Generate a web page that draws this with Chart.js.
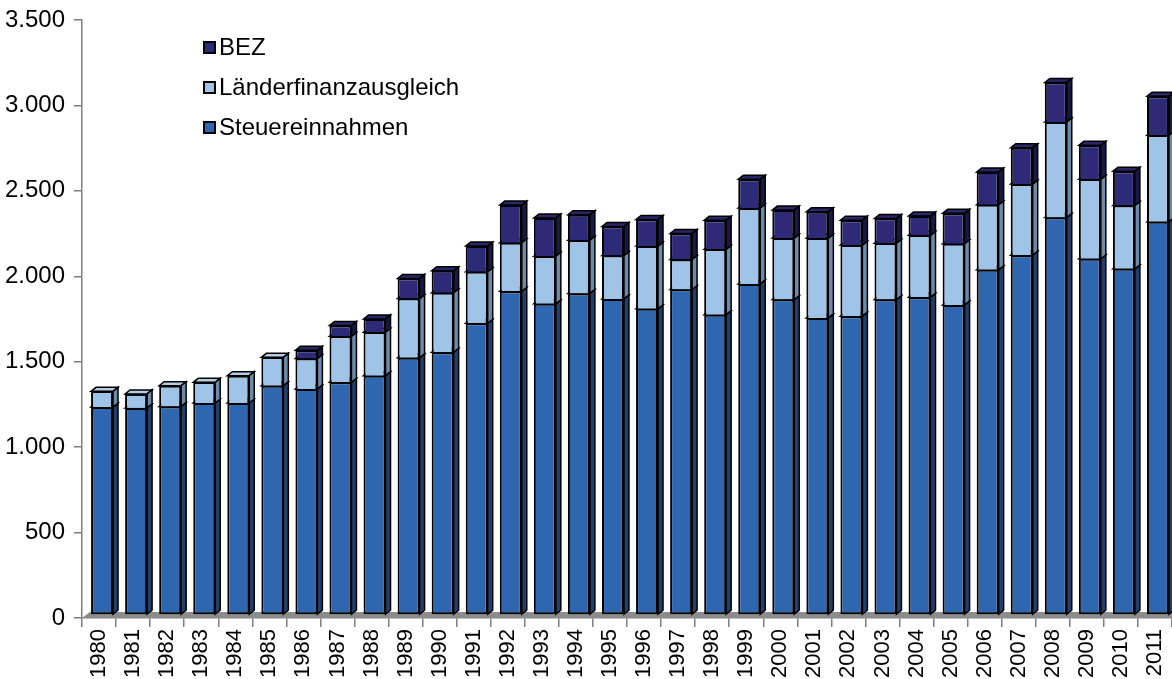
<!DOCTYPE html>
<html><head><meta charset="utf-8">
<script src="https://cdn.jsdelivr.net/npm/chart.js@4.4.1/dist/chart.umd.min.js"></script>
<style>
html,body{margin:0;padding:0;background:#fff;}
#wrap{position:relative;width:1172px;height:679px;overflow:hidden;}
#legend{position:absolute;left:203px;top:27px;font-family:"Liberation Sans",Arial,sans-serif;font-size:24px;color:#000;}
.li{display:flex;align-items:center;height:40px;white-space:nowrap;}
.sw{width:9px;height:9px;border:2px solid #000;margin-right:3px;flex:none;}
</style></head><body>
<div id="wrap"><canvas id="c" width="1172" height="679"></canvas><div id="legend"></div></div>
<script>
const years = ['1980','1981','1982','1983','1984','1985','1986','1987','1988','1989','1990','1991','1992','1993','1994','1995','1996','1997','1998','1999','2000','2001','2002','2003','2004','2005','2006','2007','2008','2009','2010','2011'];
const steuereinnahmen = [1217,1212,1221,1241,1241,1342,1323,1362,1401,1505,1538,1707,1895,1821,1882,1850,1792,1905,1758,1938,1846,1739,1749,1846,1860,1815,2020,2106,2327,2085,2026,2302];
const laenderfinanzausgleich = [92,82,121,121,160,166,178,269,254,347,348,302,284,279,312,254,367,176,382,444,360,467,416,330,362,358,381,416,559,465,371,506];
const bez = [0,0,0,0,0,0,48,63,78,118,129,150,220,223,149,170,156,152,170,168,164,154,146,145,113,178,192,213,231,199,200,228];
const yMin = 0, yMax = 3500, yStep = 500;

const FONT = '"Liberation Sans", Arial, sans-serif';
const DX = 5, DY = 4, OX = 3, OY = -3;

function fmt(v){
  if (v >= 1000) return Math.floor(v/1000) + '.' + String(v % 1000).padStart(3,'0');
  return String(v);
}

function poly(ctx, pts, fill){
  ctx.beginPath();
  ctx.moveTo(pts[0][0], pts[0][1]);
  for (let k = 1; k < pts.length; k++) ctx.lineTo(pts[k][0], pts[k][1]);
  ctx.closePath();
  ctx.fillStyle = fill;
  ctx.fill();
  ctx.lineWidth = 1.5;
  ctx.strokeStyle = '#000';
  ctx.lineJoin = 'miter';
  ctx.stroke();
}

const depthPlugin = {
  id: 'depth',
  beforeDatasetsDraw(chart){
    const ctx = chart.ctx, a = chart.chartArea;
    ctx.save();
    ctx.fillStyle = '#8c8c8c';
    ctx.beginPath();
    ctx.moveTo(a.left, a.bottom);
    ctx.lineTo(a.right + 2, a.bottom);
    ctx.lineTo(a.right + 2, a.bottom - 6);
    ctx.lineTo(a.left + 8, a.bottom - 6);
    ctx.closePath();
    ctx.fill();
    ctx.restore();

    ctx.save();
    ctx.translate(OX, OY);
    const n = chart.data.labels.length;
    for (let i = 0; i < n; i++){
      chart.data.datasets.forEach((ds, d) => {
        const v = ds.data[i];
        if (!v) return;
        const el = chart.getDatasetMeta(d).data[i];
        const p = el.getProps(['x','y','base','width'], true);
        const l = p.x - p.width/2, r = p.x + p.width/2;
        const t = Math.min(p.y, p.base), b = Math.max(p.y, p.base);
        poly(ctx, [[l,t],[r,t],[r+DX,t-DY],[l+DX,t-DY]], ds.topColor);
        poly(ctx, [[r,t],[r+DX,t-DY],[r+DX,b-DY],[r,b]], ds.sideColor);
      });
    }
  },
  afterDatasetsDraw(chart){
    chart.ctx.restore();
  }
};

const chart = new Chart(document.getElementById('c'), {
  type: 'bar',
  data: {
    labels: years,
    datasets: [
      {label:'Steuereinnahmen', data:steuereinnahmen, backgroundColor:'#2E66B0', topColor:'#4A7BBE', sideColor:'#213F6B', borderSkipped:false},
      {label:'Länderfinanzausgleich', data:laenderfinanzausgleich, backgroundColor:'#9FC4E8', topColor:'#B4CDE4', sideColor:'#6C8BAA'},
      {label:'BEZ', data:bez, backgroundColor:'#2E2A78', topColor:'#2A2768', sideColor:'#1A1845'}
    ]
  },
  options: {
    responsive: false,
    animation: false,
    events: [],
    layout: {padding: {top: 20, right: 0, left: 0, bottom: 0}},
    plugins: {legend: {display: false}, tooltip: {enabled: false}},
    datasets: {bar: {barPercentage: 0.645, categoryPercentage: 1, borderColor: '#000', borderWidth: 2, clip: false}},
    scales: {
      x: {
        stacked: true,
        grid: {display: true, drawOnChartArea: false, color: '#7f7f7f', tickLength: 9, offset: true, lineWidth: 1.5},
        border: {display: true, color: '#7f7f7f', width: 1.5},
        ticks: {minRotation: 90, maxRotation: 90, autoSkip: false, color: '#000', padding: 2, font: {family: FONT, size: 22}},
        afterFit(s){ s.height = 61; s.paddingLeft = 0; s.paddingRight = 0; }
      },
      y: {
        stacked: true, min: yMin, max: yMax,
        grid: {drawOnChartArea: false, color: '#7f7f7f', tickLength: 8, lineWidth: 1.5},
        border: {display: true, color: '#7f7f7f', width: 1.5},
        ticks: {stepSize: yStep, color: '#000', padding: 9, font: {family: FONT, size: 24}, callback: v => fmt(v)},
        afterFit(s){ s.width = 82; s.paddingTop = 0; s.paddingBottom = 0; }
      }
    }
  },
  plugins: [depthPlugin]
});

// HTML legend built from the chart's datasets (reverse stacking order)
const lg = document.getElementById('legend');
chart.data.datasets.slice().reverse().forEach(ds => {
  const row = document.createElement('div'); row.className = 'li';
  const sw = document.createElement('span'); sw.className = 'sw'; sw.style.background = ds.backgroundColor;
  const tx = document.createElement('span'); tx.textContent = ds.label;
  row.appendChild(sw); row.appendChild(tx); lg.appendChild(row);
});
</script>
</body></html>
